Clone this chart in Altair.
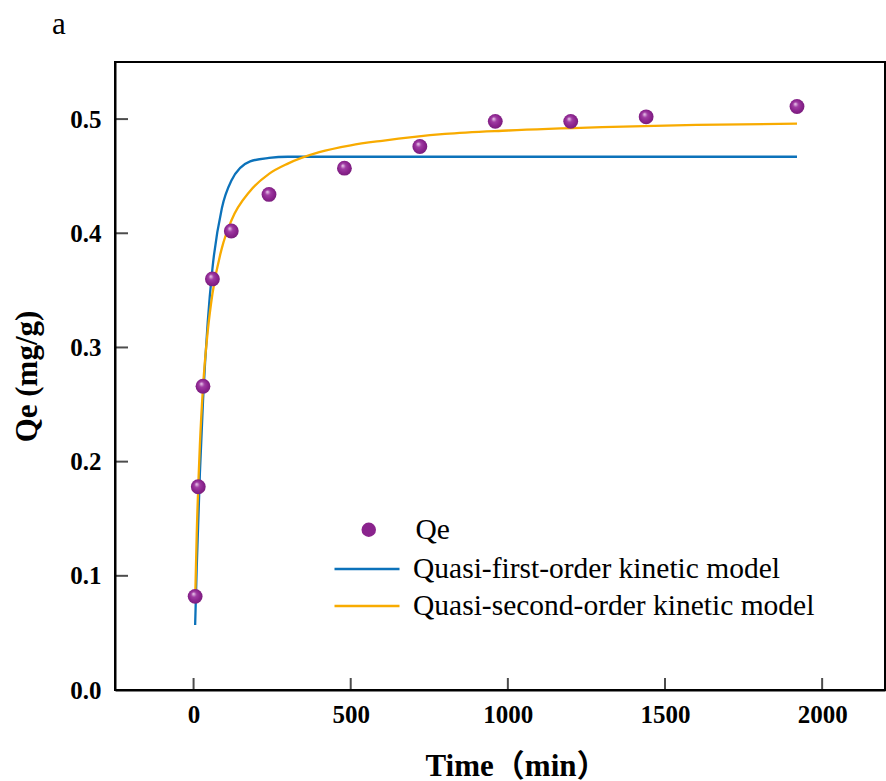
import altair as alt
import pandas as pd

# ---------------- data ----------------
time_min = [5, 15, 30, 60, 120, 240, 480, 720, 960, 1200, 1440, 1920]
qe_values = [0.082, 0.178, 0.266, 0.360, 0.402, 0.434, 0.457, 0.476, 0.498, 0.498, 0.502, 0.511]

fit_time = [5, 10, 20, 30, 45, 60, 90, 120, 180, 240, 300, 400, 500, 600, 800, 1000, 1300, 1600, 1920]
first_order = [0.057, 0.107, 0.189, 0.253, 0.322, 0.369, 0.422, 0.446, 0.463, 0.466, 0.467, 0.467,
               0.467, 0.467, 0.467, 0.467, 0.467, 0.467, 0.467]
second_order = [0.0785, 0.136, 0.214, 0.265, 0.314, 0.347, 0.387, 0.411, 0.437, 0.452, 0.461, 0.471,
                0.477, 0.481, 0.487, 0.490, 0.493, 0.495, 0.496]

x_ticks = [0, 500, 1000, 1500, 2000]
y_ticks = [0.0, 0.1, 0.2, 0.3, 0.4, 0.5]

name_pts = "Qe"
name_first = "Quasi-first-order kinetic model"
name_second = "Quasi-second-order kinetic model"

# ---------------- tables ----------------
df_pts = pd.DataFrame({"t": time_min, "q": qe_values, "series": name_pts})
df_first = pd.DataFrame({"t": fit_time, "q": first_order, "model": name_first})
df_second = pd.DataFrame({"t": fit_time, "q": second_order, "model": name_second})
df_xt = pd.DataFrame({"t": x_ticks})
df_yt = pd.DataFrame({"q": y_ticks})

FONT = "Liberation Serif"
TITLE_FONT = "'Liberation Serif', 'Noto Sans CJK SC'"
BLUE = "#0c72ba"
ORANGE = "#f8ab00"
PURPLE = "#8a238d"

x_scale = alt.Scale(domain=[-250, 2200], nice=False, zero=False)
y_scale = alt.Scale(domain=[0, 0.55], nice=False, zero=True)

x_enc = alt.X(
    "t:Q", scale=x_scale,
    axis=alt.Axis(values=x_ticks, format="d", title="Time（min）", ticks=False,
                  labelPadding=12, titlePadding=24, titleX=401, titleAlign="center",
                  grid=False),
)
y_enc = alt.Y(
    "q:Q", scale=y_scale,
    axis=alt.Axis(values=y_ticks, format=".1f", title="Qe (mg/g)", ticks=False,
                  labelPadding=14, titlePadding=26, grid=False),
)

legend_common = dict(orient="none", title=None, padding=0, labelFont=FONT, labelLimit=0,
                     labelFontSize=29.5, labelColor="black", labelFontWeight="normal")

line_first = alt.Chart(df_first).mark_line(strokeWidth=2.3, interpolate="monotone").encode(
    x=x_enc, y=y_enc,
    stroke=alt.Stroke("model:N", scale=alt.Scale(domain=[name_first], range=[BLUE]),
                      legend=alt.Legend(legendX=218, legendY=473, symbolType="stroke",
                                        symbolSize=4225, symbolStrokeWidth=2.5,
                                        labelOffset=12, **legend_common)),
)

line_second = alt.Chart(df_second).mark_line(strokeWidth=2.3, interpolate="monotone").encode(
    x=x_enc, y=y_enc,
    color=alt.Color("model:N", scale=alt.Scale(domain=[name_second], range=[ORANGE]),
                    legend=alt.Legend(legendX=218, legendY=510, symbolType="stroke",
                                      symbolSize=4225, symbolStrokeWidth=2.5,
                                      labelOffset=12, **legend_common)),
)

sphere = alt.RadialGradient(
    gradient="radial",
    stops=[alt.GradientStop(color="#f1d6f2", offset=0),
           alt.GradientStop(color="#a03ca3", offset=0.3),
           alt.GradientStop(color=PURPLE, offset=0.65),
           alt.GradientStop(color="#701a73", offset=1)],
    x1=0.38, y1=0.32, r1=0, x2=0.5, y2=0.5, r2=0.6,
)

points = alt.Chart(df_pts).mark_circle(size=220, fill=sphere, opacity=1).encode(
    x=x_enc, y=y_enc,
)

points_legend = alt.Chart(df_pts).transform_filter("false").mark_circle(size=210, opacity=1).encode(
    x=x_enc, y=y_enc,
    fill=alt.Fill("series:N", scale=alt.Scale(domain=[name_pts], range=[PURPLE]),
                  legend=alt.Legend(legendX=239, legendY=453, symbolType="circle",
                                    symbolSize=210, symbolStrokeWidth=0,
                                    labelOffset=32, **legend_common)),
)

x_tick_marks = alt.Chart(df_xt).mark_tick(orient="vertical", size=24, thickness=2,
                                          color="black", clip=True).encode(
    x=x_enc, y=alt.datum(0),
)
y_tick_marks = alt.Chart(df_yt).mark_tick(orient="horizontal", size=26, thickness=2,
                                          color="black", clip=True).encode(
    x=alt.datum(-250), y=y_enc,
)

chart = alt.layer(
    line_first, line_second, points, points_legend, x_tick_marks, y_tick_marks
).properties(
    width=770, height=628,
    autosize=alt.AutoSizeParams(type="none"),
    padding={"left": 115, "top": 62, "right": 1, "bottom": 91},
    title=alt.TitleParams("a", anchor="start", frame="group", font=FONT, fontSize=31,
                          fontWeight="normal", color="black", baseline="alphabetic",
                          offset=1, dx=-63, dy=4),
).configure(
    background="white",
).configure_view(
    stroke="black", strokeWidth=2,
).configure_axis(
    domainColor="black", domainWidth=2,
    labelFont=FONT, labelFontSize=25, labelFontWeight="bold", labelColor="black",
    titleFont=TITLE_FONT, titleFontSize=31, titleFontWeight="bold", titleColor="black",
)

chart.save("out.html", embed_options={"renderer": "svg", "actions": False})
